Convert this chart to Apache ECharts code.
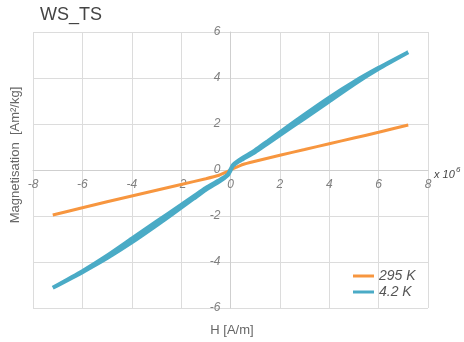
<!DOCTYPE html>
<html>
<head>
<meta charset="utf-8">
<script src="https://cdn.jsdelivr.net/npm/echarts@6/dist/echarts.min.js"></script>
<style>
  html, body { margin: 0; padding: 0; background: #fff; }
  #chart { width: 464px; height: 342px; }
</style>
</head>
<body>
<div id="chart"></div>
<script>
// Magnetisation curves, field H in units of 10^6 A/m
var h295 = [-7.2, -6, -4, -2, -1, -0.5, -0.2, 0, 0.2, 0.5, 1, 2, 3, 4, 5, 6, 7.2];
var m295 = [-1.96, -1.64, -1.13, -0.63, -0.38, -0.24, -0.1, 0, 0.1, 0.24, 0.38, 0.64, 0.89, 1.14, 1.39, 1.64, 1.96];

// 4.2 K loop: ascending branch (field increasing)
var hAsc42 = [-7.2, -6, -5, -4, -3, -2, -1.5, -1, -0.5, -0.25, -0.1, 0, 0.1, 0.25, 0.5, 1, 1.5, 2, 3, 4, 5, 6, 7.2];
var mAsc42 = [-5.12, -4.44, -3.83, -3.15, -2.41, -1.64, -1.25, -0.86, -0.53, -0.35, -0.22, -0.02, 0.18, 0.31, 0.47, 0.78, 1.15, 1.52, 2.25, 2.99, 3.73, 4.40, 5.12];
// 4.2 K loop: descending branch (field decreasing)
var hDesc42 = [7.2, 6, 5, 4, 3, 2, 1.5, 1, 0.5, 0.25, 0.1, 0, -0.1, -0.25, -0.5, -1, -1.5, -2, -3, -4, -5, -6, -7.2];
var mDesc42 = [5.12, 4.44, 3.83, 3.15, 2.41, 1.64, 1.25, 0.86, 0.53, 0.35, 0.22, 0.02, -0.18, -0.31, -0.47, -0.78, -1.15, -1.52, -2.25, -2.99, -3.73, -4.40, -5.12];

var seriesNames = ['295 K', '4.2 K'];
var seriesColors = ['#f7963f', '#4aabc6'];

function pairs(xs, ys) {
  var out = [];
  for (var i = 0; i < xs.length; i++) out.push([xs[i], ys[i]]);
  return out;
}

var loop42 = pairs(hAsc42, mAsc42).concat(pairs(hDesc42, mDesc42));

var chart = echarts.init(document.getElementById('chart'), null, { renderer: 'canvas' });

var fontFamily = 'Liberation Sans, Arial, sans-serif';
var labelFont = { color: '#808080', fontStyle: 'italic', fontSize: 12, fontFamily: fontFamily };
var gridLine = { lineStyle: { color: '#dcdcdc', width: 1 } };

// plot rectangle; the axes cross at the origin in its middle
var gridLeft = 33, gridRight = 36, gridTop = 32, gridBottom = 34;
var plotW = 464 - gridLeft - gridRight;
var plotH = 342 - gridTop - gridBottom;

chart.setOption({
  animation: false,
  backgroundColor: '#fff',
  title: {
    text: 'WS_TS',
    left: 35,
    top: 1,
    textStyle: { fontSize: 18, fontWeight: 'normal', color: '#444', fontFamily: fontFamily }
  },
  grid: { left: gridLeft, right: gridRight, top: gridTop, bottom: gridBottom, containLabel: false },
  legend: {
    orient: 'vertical',
    left: 353,
    top: 269,
    padding: 0,
    itemWidth: 21,
    itemHeight: 3,
    itemGap: 2,
    icon: 'rect',
    data: seriesNames,
    textStyle: { color: '#555', fontStyle: 'italic', fontSize: 14, fontFamily: fontFamily }
  },
  xAxis: {
    type: 'value',
    min: -8,
    max: 8,
    interval: 2,
    position: 'bottom',
    offset: -plotH / 2,
    axisLine: { onZero: false, lineStyle: { color: '#cfcfcf', width: 1 } },
    axisTick: { show: false },
    axisLabel: Object.assign({ margin: 9 }, labelFont),
    splitLine: gridLine
  },
  yAxis: {
    type: 'value',
    min: -6,
    max: 6,
    interval: 2,
    position: 'left',
    offset: -plotW / 2,
    axisLine: { onZero: false, lineStyle: { color: '#cfcfcf', width: 1 } },
    axisTick: { show: false },
    axisLabel: Object.assign({ margin: 10 }, labelFont),
    splitLine: gridLine
  },
  graphic: [
    {
      type: 'text',
      left: 434,
      top: 169,
      style: { text: 'x 10', fill: '#444', font: 'italic 11px ' + fontFamily }
    },
    {
      type: 'text',
      left: 456,
      top: 166,
      style: { text: '6', fill: '#444', font: 'italic 8px ' + fontFamily }
    },
    {
      type: 'text',
      x: 15,
      y: 155,
      rotation: Math.PI / 2,
      style: {
        text: 'Magnetisation  [Am\u00B2/kg]',
        fill: '#666',
        font: '13px ' + fontFamily,
        textAlign: 'center',
        textVerticalAlign: 'middle'
      }
    },
    {
      type: 'text',
      x: 232,
      y: 330,
      style: {
        text: 'H [A/m]',
        fill: '#666',
        font: '13px ' + fontFamily,
        textAlign: 'center',
        textVerticalAlign: 'middle'
      }
    }
  ],
  series: [
    {
      name: seriesNames[0],
      type: 'line',
      data: pairs(h295, m295),
      showSymbol: false,
      smooth: 0.2,
      color: seriesColors[0],
      lineStyle: { width: 3, color: seriesColors[0] },
      z: 2
    },
    {
      name: seriesNames[1],
      type: 'line',
      data: loop42,
      showSymbol: false,
      smooth: 0.2,
      color: seriesColors[1],
      lineStyle: { width: 4, color: seriesColors[1] },
      z: 3
    }
  ]
});
</script>
</body>
</html>
